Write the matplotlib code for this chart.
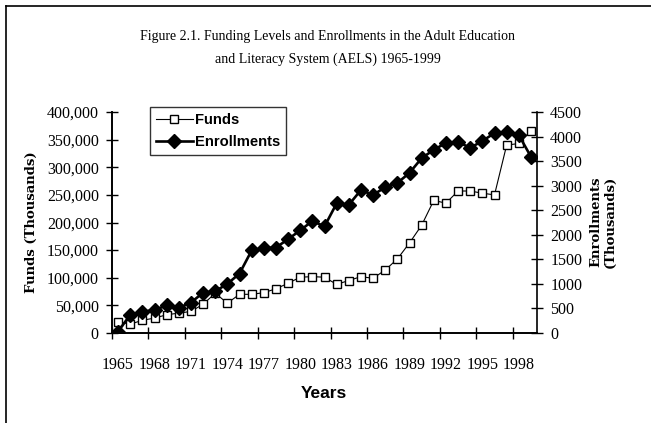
import numpy as np
import matplotlib
matplotlib.use("Agg")
import matplotlib.pyplot as plt
from matplotlib.lines import Line2D

years = list(range(1965, 2000))
funds = [20000, 16000, 23000, 27000, 33000, 36000, 39000, 52000, 72000, 54000,
         70000, 70000, 73000, 80000, 90000, 101000, 102000, 101000, 88000, 95000,
         102000, 99000, 114000, 134000, 163000, 195000, 240000, 235000, 257000, 257000,
         253000, 250000, 340000, 343000, 366000]
enrollments = [30, 370, 430, 470, 560, 510, 620, 820, 850, 1000,
               1210, 1680, 1730, 1740, 1910, 2090, 2280, 2170, 2640, 2610,
               2910, 2810, 2970, 3055, 3260, 3560, 3730, 3870, 3890, 3770,
               3910, 4070, 4090, 4030, 3590]
year_labels = [str(y) for y in years[::3]]
title_lines = ["Figure 2.1. Funding Levels and Enrollments in the Adult Education",
               "and Literacy System (AELS) 1965-1999"]

W, H = 651, 423
fig = plt.figure(figsize=(W / 100, H / 100), dpi=100)
serif = "Liberation Serif"

ax = fig.add_axes([112 / W, 1 - 333 / H, (537 - 112) / W, (333 - 112) / H])
ax2 = ax.twinx()

ax.plot(years, funds, color="black", lw=0.8, marker="s", ms=6,
        mfc="white", mec="black", mew=1.0, zorder=3)
ax2.plot(years, enrollments, color="black", lw=1.9, marker="D", ms=6.7,
         mfc="black", mec="black", zorder=3)

ax.set_xlim(years[0] - 0.5, years[-1] + 0.5)
ax.set_ylim(0, 400000)
ax2.set_ylim(0, 4500)

# tick marks sit between categories, labels under every third year
bounds = np.arange(years[0] - 0.5, years[-1] + 0.5, 3)
ax.set_xticks(bounds)
ax.set_xticklabels([])
ax.set_xticks(years[::3], minor=True)
ax.set_xticklabels(year_labels, minor=True, fontfamily=serif, fontsize=11.5)
ax.tick_params(axis="x", which="major", direction="inout", length=9, width=1)
ax.tick_params(axis="x", which="minor", length=0, pad=17)

ax.set_yticks(np.arange(0, 400001, 50000))
ax.set_yticklabels([f"{v:,}" for v in range(0, 400001, 50000)],
                   fontfamily=serif, fontsize=11.5)
ax.tick_params(axis="y", direction="inout", length=9, width=1, pad=5)
ax2.set_yticks(np.arange(0, 4501, 500))
ax2.set_yticklabels([str(v) for v in range(0, 4501, 500)],
                    fontfamily=serif, fontsize=11.5)
ax2.tick_params(axis="y", direction="inout", length=9, width=1, pad=5)

for a in (ax, ax2):
    a.spines["top"].set_visible(False)
    for s in ("left", "right", "bottom"):
        a.spines[s].set_linewidth(1.2)
ax.spines["right"].set_visible(False)

fig.text(31 / W, 1 - 222 / H, "Funds (Thousands)", rotation=90, ha="center",
         va="center", fontfamily="DejaVu Serif", fontweight="bold", fontsize=9.5)
fig.text(603 / W, 1 - 222 / H, "Enrollments\n(Thousands)", rotation=90,
         ha="center", va="center", fontfamily="DejaVu Serif", fontweight="bold",
         fontsize=9.5, linespacing=1.1)
fig.text(324 / W, 1 - 393 / H, "Years", ha="center", va="center",
         fontfamily="Liberation Sans", fontweight="bold", fontsize=12.5)

fig.text(328 / W, 1 - 40 / H, title_lines[0], ha="center", va="baseline",
         fontfamily=serif, fontsize=10)
fig.text(328 / W, 1 - 63 / H, title_lines[1], ha="center", va="baseline",
         fontfamily=serif, fontsize=10)

handles = [Line2D([], [], color="black", lw=0.8, marker="s", ms=6,
                  mfc="white", mec="black"),
           Line2D([], [], color="black", lw=1.9, marker="D", ms=6.7,
                  mfc="black", mec="black")]
leg = fig.legend(handles, ["Funds", "Enrollments"], loc="upper left",
                 bbox_to_anchor=(150 / W, 1 - 107 / H), borderaxespad=0,
                 frameon=True, fancybox=False, edgecolor="black",
                 handlelength=2.5, handletextpad=0.15, borderpad=0.4,
                 labelspacing=0.55, prop={"family": "Liberation Sans",
                                          "weight": "bold", "size": 10.6})
leg.get_frame().set_linewidth(1.0)

fig.add_artist(Line2D([6 / W, 6 / W], [0, 1 - 6 / H], color="black", lw=1.2))
fig.add_artist(Line2D([6 / W, 1], [1 - 6 / H, 1 - 6 / H], color="black", lw=1.2))

fig.savefig("out.png", dpi=100)
